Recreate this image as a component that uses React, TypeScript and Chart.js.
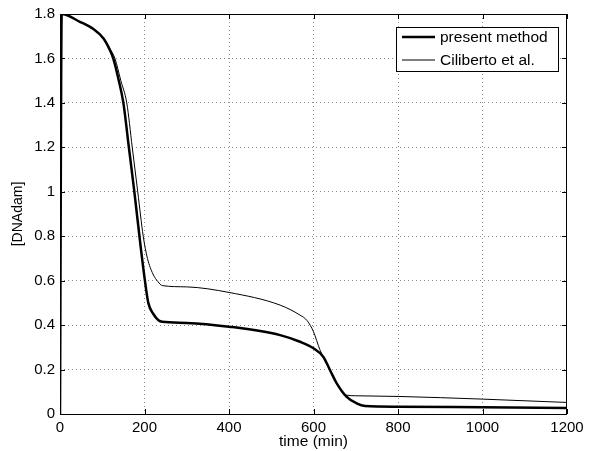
import React, { useEffect, useRef } from "react";
import { Chart, registerables } from "chart.js";

Chart.register(...registerables);

const xTicks = [0, 200, 400, 600, 800, 1000, 1200];
const yTicks = [0, 0.2, 0.4, 0.6, 0.8, 1, 1.2, 1.4, 1.6, 1.8];

const presentT = [0, 4, 47, 79, 103, 118, 126, 138, 150, 163, 176, 188, 201, 209, 221, 233, 242, 300, 400, 521, 568, 600, 623, 639, 655, 678, 702, 722, 800, 1000, 1200];
const presentV = [0, 1.8, 1.765, 1.732, 1.69, 1.638, 1.6, 1.51, 1.4, 1.2, 1.0, 0.8, 0.6, 0.5, 0.45, 0.422, 0.415, 0.41, 0.393, 0.355, 0.325, 0.296, 0.258, 0.198, 0.138, 0.078, 0.048, 0.036, 0.033, 0.03, 0.027];

const cilibertoT = [0, 4, 47, 79, 103, 118, 130, 144, 158, 171, 184, 197, 207, 220, 232, 242, 300, 400, 521, 568, 585, 600, 615, 623, 639, 655, 678, 700, 800, 1000, 1200];
const cilibertoV = [0, 1.8, 1.765, 1.732, 1.692, 1.645, 1.6, 1.5, 1.4, 1.2, 1.0, 0.8, 0.7, 0.63, 0.595, 0.578, 0.572, 0.547, 0.49, 0.445, 0.42, 0.37, 0.29, 0.258, 0.198, 0.138, 0.085, 0.082, 0.079, 0.067, 0.052];

const labels = ["present method", "Ciliberto et al."];
const FONT = "'Liberation Sans', Arial, Helvetica, sans-serif";

const boxPlugin = {
  id: "matlabBox",
  afterDatasetsDraw(chart: any) {
    const { ctx, chartArea: a, scales } = chart;
    ctx.save();
    ctx.strokeStyle = "#000";
    ctx.lineWidth = 1;
    ctx.strokeRect(a.left + 0.5, a.top + 0.5, a.right - a.left - 1, a.bottom - a.top);
    const tl = 5;
    ctx.beginPath();
    for (const v of xTicks) {
      const px = Math.round(scales.x.getPixelForValue(v)) + 0.5;
      ctx.moveTo(px, a.bottom);
      ctx.lineTo(px, a.bottom - tl);
      ctx.moveTo(px, a.top);
      ctx.lineTo(px, a.top + tl);
    }
    for (const v of yTicks) {
      const py = Math.round(scales.y.getPixelForValue(v)) + 0.5;
      ctx.moveTo(a.left, py);
      ctx.lineTo(a.left + tl, py);
      ctx.moveTo(a.right, py);
      ctx.lineTo(a.right - tl, py);
    }
    ctx.stroke();
    ctx.restore();
  },
  afterDraw(chart: any) {
    const { ctx } = chart;
    const bx = 396, by = 27, bw = 162, bh = 44;
    ctx.save();
    ctx.fillStyle = "#fff";
    ctx.fillRect(bx, by, bw, bh);
    ctx.strokeStyle = "#000";
    ctx.lineWidth = 1;
    ctx.strokeRect(bx + 0.5, by + 0.5, bw, bh);
    const rows = [37, 60];
    const widths = [2.5, 1];
    ctx.font = `15.5px ${FONT}`;
    ctx.textBaseline = "middle";
    ctx.fillStyle = "#000";
    rows.forEach((ry, i) => {
      ctx.beginPath();
      ctx.lineWidth = widths[i];
      ctx.moveTo(402, ry);
      ctx.lineTo(435, ry);
      ctx.stroke();
      ctx.fillText(chart.data.datasets[i].label, 440, ry + 1);
    });
    ctx.restore();
  },
};

export default function App() {
  const ref = useRef<HTMLCanvasElement>(null);
  useEffect(() => {
    if (!ref.current) return;
    const gridColor = "#8a8a8a";
    const chart = new Chart(ref.current, {
      type: "line",
      data: {
        datasets: [
          {
            label: labels[0],
            data: presentT.map((t, i) => ({ x: t, y: presentV[i] })),
            borderColor: "#000",
            borderWidth: 2.5,
            pointRadius: 0,
            cubicInterpolationMode: "monotone",
            fill: false,
          },
          {
            label: labels[1],
            data: cilibertoT.map((t, i) => ({ x: t, y: cilibertoV[i] })),
            borderColor: "#000",
            borderWidth: 1,
            pointRadius: 0,
            cubicInterpolationMode: "monotone",
            fill: false,
          },
        ],
      },
      options: {
        animation: false,
        responsive: false,
        layout: { padding: { top: 14, right: 25, left: 0, bottom: 0 } },
        plugins: { legend: { display: false }, tooltip: { enabled: false } },
        scales: {
          x: {
            type: "linear",
            min: 0,
            max: 1200,
            afterBuildTicks: (s: any) => {
              s.ticks = xTicks.map((v) => ({ value: v }));
            },
            afterFit: (s: any) => {
              s.height = 37;
            },
            ticks: {
              font: { family: FONT, size: 15 },
              color: "#000",
              padding: 5,
              maxRotation: 0,
              autoSkip: false,
              callback: (v: any) => String(v),
            },
            grid: {
              color: (c: any) =>
                c.tick && (c.tick.value === 0 || c.tick.value === 1200) ? "rgba(0,0,0,0)" : gridColor,
              lineWidth: 1,
              drawTicks: false,
            },
            border: { display: false, dash: [1, 3] },
            title: {
              display: true,
              text: "time (min)",
              font: { family: FONT, size: 15.5 },
              color: "#000",
              padding: { top: 0, bottom: 0 },
            },
          },
          y: {
            type: "linear",
            min: 0,
            max: 1.8,
            afterBuildTicks: (s: any) => {
              s.ticks = yTicks.map((v) => ({ value: v }));
            },
            afterFit: (s: any) => {
              s.width = 60;
            },
            ticks: {
              font: { family: FONT, size: 15 },
              color: "#000",
              padding: 5,
              autoSkip: false,
              callback: (v: any) => String(Math.round(Number(v) * 10) / 10),
            },
            grid: {
              color: (c: any) =>
                c.tick && (c.tick.value === 0 || Math.abs(c.tick.value - 1.8) < 1e-9) ? "rgba(0,0,0,0)" : gridColor,
              lineWidth: 1,
              drawTicks: false,
            },
            border: { display: false, dash: [1, 3] },
            title: {
              display: true,
              text: "[DNAdam]",
              font: { family: FONT, size: 14 },
              color: "#000",
              padding: { top: 10, bottom: 0 },
            },
          },
        },
      },
      plugins: [boxPlugin],
    } as any);
    return () => chart.destroy();
  }, []);
  return (
    <div style={{ position: "fixed", left: 0, top: 0, width: 592, height: 451, background: "#fff" }}>
      <canvas ref={ref} width={592} height={451} style={{ display: "block" }} />
    </div>
  );
}
